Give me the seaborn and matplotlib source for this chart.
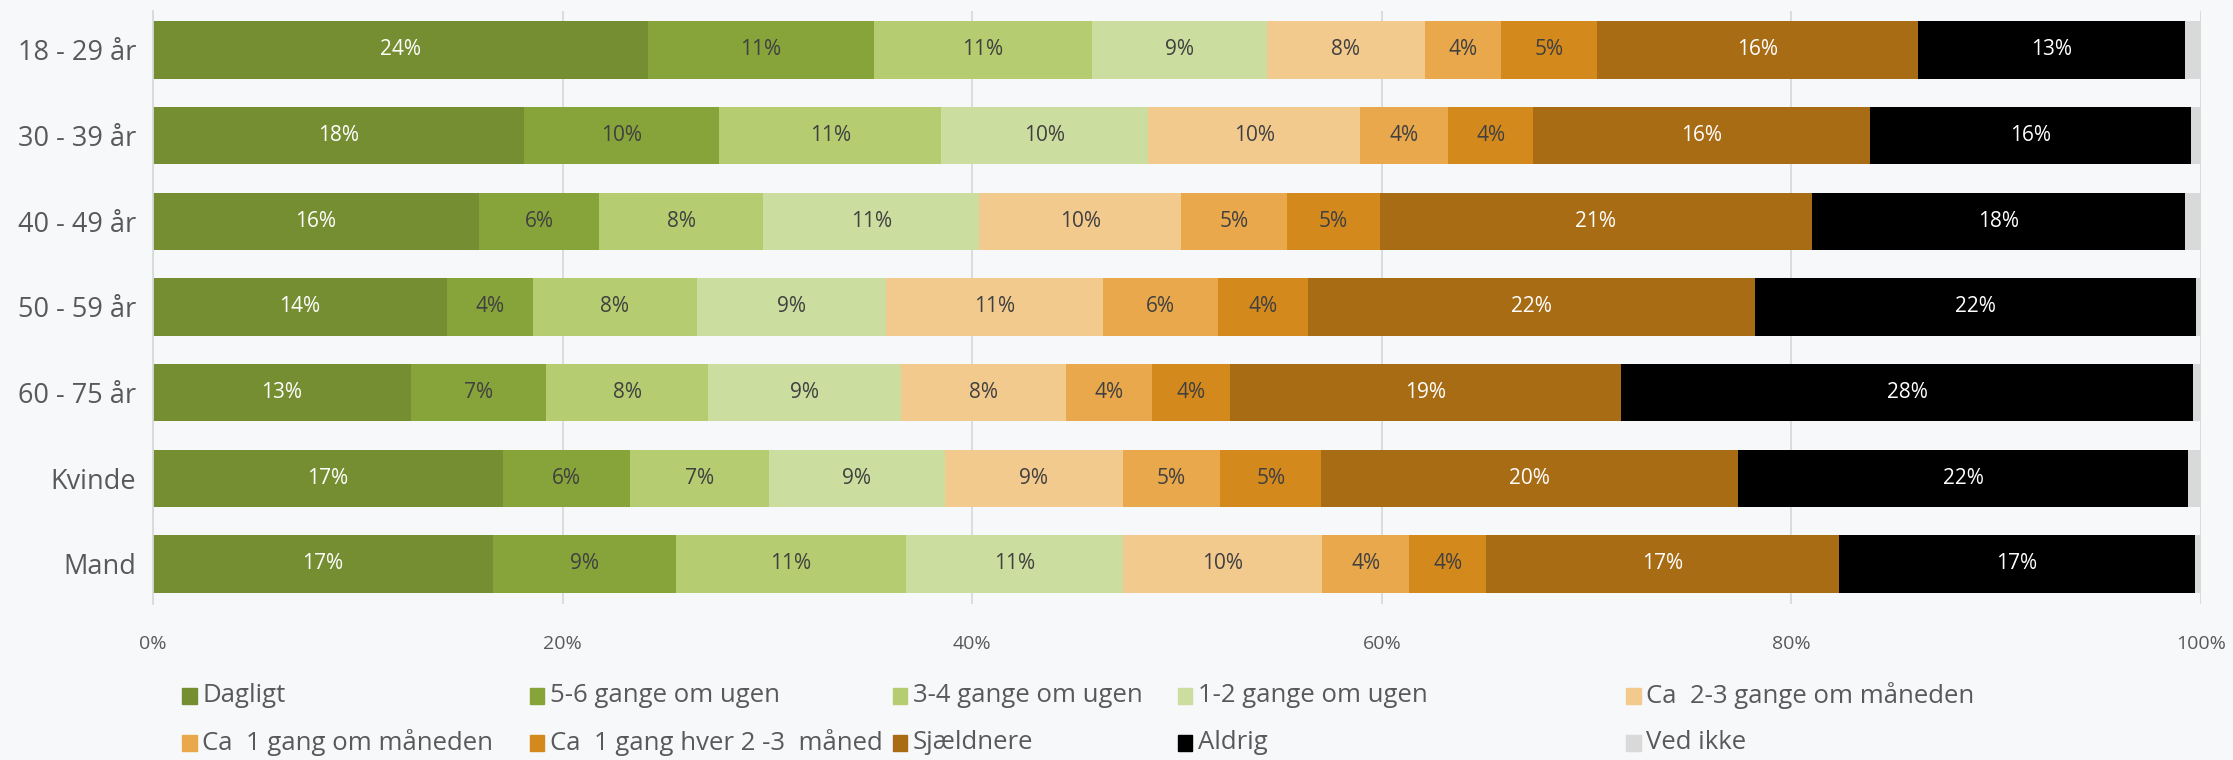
import numpy as np
import pandas as pd
import seaborn as sns
import matplotlib.pyplot as plt
from matplotlib.patches import Rectangle

# Age groups / gender (rows, top to bottom)
groups = ['18 - 29 år', '30 - 39 år', '40 - 49 år', '50 - 59 år', '60 - 75 år', 'Kvinde', 'Mand']

# Answer categories (stack order, left to right)
categories = ['Dagligt', '5-6 gange om ugen', '3-4 gange om ugen', '1-2 gange om ugen',
              'Ca  2-3 gange om måneden', 'Ca  1 gang om måneden', 'Ca  1 gang hver 2 -3  måned',
              'Sjældnere', 'Aldrig', 'Ved ikke']

# share in percent, one list per category (one value per group)
dagligt     = [24.15, 18.1, 15.9, 14.35, 12.6, 17.1, 16.6]
gange_5_6   = [11.05, 9.55, 5.9, 4.2, 6.6, 6.2, 8.95]
gange_3_4   = [10.65, 10.85, 8.0, 8.0, 7.9, 6.8, 11.2]
gange_1_2   = [8.55, 10.1, 10.55, 9.25, 9.4, 8.55, 10.6]
maaned_2_3  = [7.7, 10.35, 9.85, 10.6, 8.1, 8.7, 9.75]
maaned_1    = [3.7, 4.3, 5.15, 5.6, 4.2, 4.75, 4.25]
hver_2_3    = [4.7, 4.15, 4.55, 4.4, 3.8, 4.95, 3.75]
sjaeldnere  = [15.7, 16.45, 21.1, 21.8, 19.1, 20.35, 17.2]
aldrig      = [13.0, 15.65, 18.2, 21.55, 27.9, 21.95, 17.4]
ved_ikke    = [0.8, 0.5, 0.8, 0.25, 0.4, 0.65, 0.3]

colors = ['#748E31', '#87A43A', '#B5CC70', '#CCDE9F', '#F3CA8E',
          '#E9A84C', '#D4891C', '#A86C15', '#000000', '#D9D9D9']
text_colors = ['white', '#404040', '#404040', '#404040', '#404040',
               '#404040', '#404040', 'white', 'white', None]

values = np.array([dagligt, gange_5_6, gange_3_4, gange_1_2, maaned_2_3,
                   maaned_1, hver_2_3, sjaeldnere, aldrig, ved_ikke])
cum = values.cumsum(axis=0)

df = pd.DataFrame(cum.T, columns=categories)
df['group'] = groups

sns.set_theme(style='white')
bg = '#F7F8FA'
plt.rcParams['font.family'] = ['Open Sans', 'DejaVu Sans']

fig = plt.figure(figsize=(22.33, 7.6), dpi=100, facecolor=bg)
ax = fig.add_axes([0.0685, 0.205, 0.9172, 0.78])
ax.set_facecolor(bg)

# draw cumulative bars back to front so they stack
for i in reversed(range(len(categories))):
    sns.barplot(data=df, x=categories[i], y='group', orient='h', color=colors[i],
                saturation=1, width=0.67, errorbar=None, ax=ax, linewidth=0)

# segment labels
for i in range(len(categories)):
    if text_colors[i] is None:
        continue
    for j in range(len(groups)):
        v = values[i, j]
        ax.text(cum[i, j] - v / 2, j, f'{v:.0f}%', ha='center', va='center',
                fontsize=15, color=text_colors[i])

ax.set_xlim(0, 100)
ax.set_ylim(6.47, -0.45)
ax.set_xticks(range(0, 101, 20))
ax.set_xticklabels([f'{t}%' for t in range(0, 101, 20)])
ax.xaxis.grid(True, color='#D9D9D9', linewidth=1.3)
ax.set_axisbelow(True)
ax.set_xlabel('')
ax.set_ylabel('')
ax.tick_params(axis='x', length=0, pad=22, labelsize=14, labelcolor='#595959')
ax.tick_params(axis='y', length=0, pad=12, labelsize=19.5, labelcolor='#595959')
for s in ['top', 'right', 'bottom']:
    ax.spines[s].set_visible(False)
ax.spines['left'].set_color('#D9D9D9')
ax.spines['left'].set_linewidth(1.3)

# legend laid out in a 5 x 2 grid like the original
leg_x = [0.0816, 0.2372, 0.3999, 0.5274, 0.7283]
leg_y = [0.0843, 0.0225]
for k, name in enumerate(categories):
    row, col = divmod(k, 5)
    x, y = leg_x[col], leg_y[row]
    fig.patches.append(Rectangle((x, y - 0.0105), 0.0064, 0.021, transform=fig.transFigure,
                                 color=colors[k], figure=fig))
    fig.text(x + 0.009, y, name, ha='left', va='center', fontsize=18.5, color='#595959')

fig.savefig('out.png', dpi=100, facecolor=bg)
